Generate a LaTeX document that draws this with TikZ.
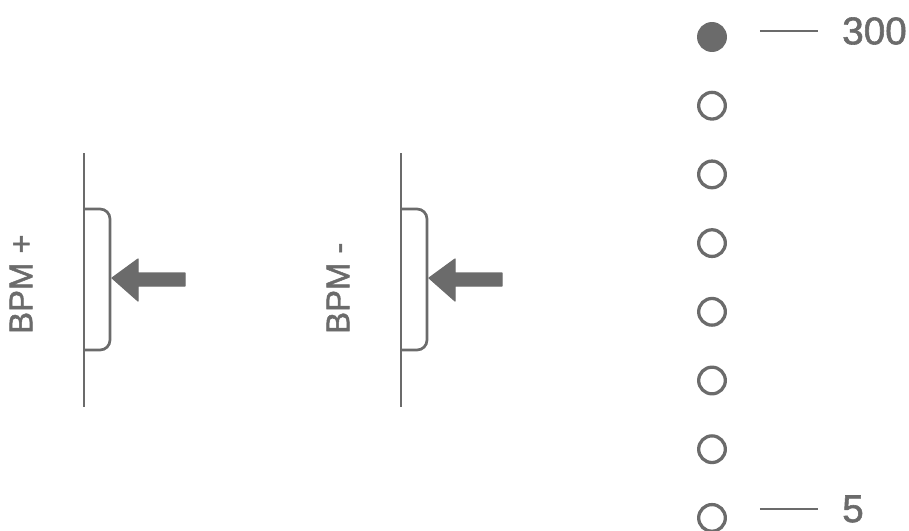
\documentclass[tikz,border=0pt]{standalone}
\usepackage{fontspec}
\setmainfont{Liberation Sans}
\newfontfamily\labfont[FakeBold=1.5]{Liberation Sans}
\usetikzlibrary{positioning}
\definecolor{ink}{HTML}{6B6B6B}

\begin{document}
\begin{tikzpicture}[x=0.03cm, y=-0.03cm,
    body/.style={draw=ink, line width=2.3pt},
    push/.style={fill=ink, draw=ink, line width=1pt, line join=round},
    led/.style={circle, draw=ink, line width=2.8pt, minimum size=0.8cm, inner sep=0pt},
    tick/.style={draw=ink, line width=1.9pt},
    lab/.style={text=ink, inner sep=0pt, font=\labfont\fontsize{28}{30}\selectfont},
    num/.style={text=ink, inner sep=0pt, anchor=west, font=\labfont\fontsize{33}{36}\selectfont}]
    \useasboundingbox (0,0) rectangle (909,530);
    % the two buttons
    \foreach \x/\t in {84/BPM +, 401/BPM -} {
      \draw[body] (\x,153) -- (\x,407);
      \draw[body, rounded corners=8.5pt] (\x,209) -- (\x+26,209) -- (\x+26,350) -- (\x,350);
      \fill[push] (\x+28,278) -- (\x+54,259) -- (\x+54,273) -- (\x+101,273) -- (\x+101,286) -- (\x+54,286) -- (\x+54,301) -- cycle;
      \node[lab, rotate=90, anchor=west] (lab\x) at (\x-63,334) {\t};
    }
    % tempo scale
    \node[led, fill=ink] (dot0) at (712,37) {};
    \foreach \i in {1,...,7} { \node[led] (dot\i) at (712,37+68.7*\i) {}; }
    \node[num] (top) at (842,31) {300};
    \node[num] (bottom) at (842,509) {5};
    \draw[tick, shorten <=28pt, shorten >=20.5pt] (top.west -| dot0.east) -- (top.west);
    \draw[tick, shorten <=28pt, shorten >=20.5pt] (bottom.west -| dot7.east) -- (bottom.west);
  \end{tikzpicture}
\end{document}
